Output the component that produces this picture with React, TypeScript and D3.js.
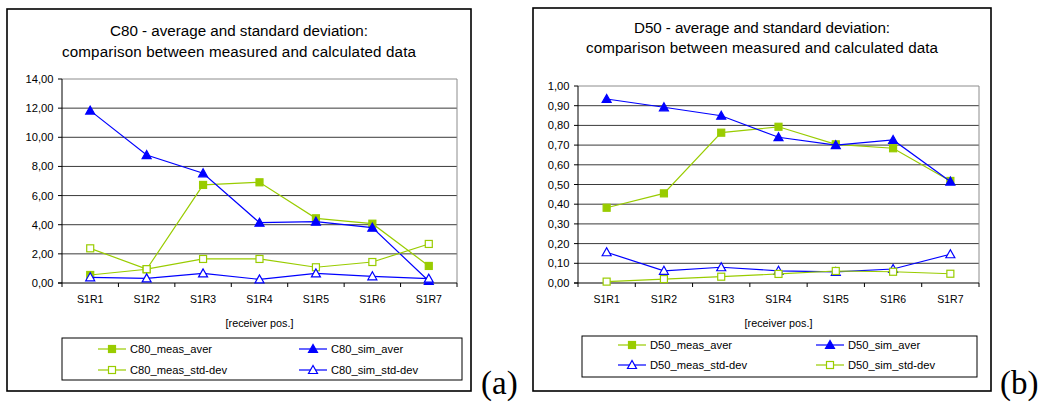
import * as d3 from "d3";

const categories = ["S1R1", "S1R2", "S1R3", "S1R4", "S1R5", "S1R6", "S1R7"];

const c80MeasAver = [0.55, 0.94, 6.73, 6.91, 4.44, 4.07, 1.17];
const c80SimAver = [11.83, 8.78, 7.53, 4.14, 4.21, 3.8, 0.14];
const c80MeasStd = [2.38, 0.95, 1.65, 1.65, 1.08, 1.44, 2.68];
const c80SimStd = [0.39, 0.32, 0.66, 0.25, 0.66, 0.46, 0.3];
const c80Ticks = [0, 2, 4, 6, 8, 10, 12, 14];

const d50MeasAver = [0.382, 0.455, 0.763, 0.793, 0.704, 0.684, 0.518];
const d50SimAver = [0.934, 0.892, 0.849, 0.74, 0.7, 0.726, 0.515];
const d50MeasStd = [0.156, 0.062, 0.08, 0.062, 0.056, 0.071, 0.146];
const d50SimStd = [0.007, 0.02, 0.032, 0.046, 0.061, 0.057, 0.047];
const d50Ticks = [0, 0.1, 0.2, 0.3, 0.4, 0.5, 0.6, 0.7, 0.8, 0.9, 1.0];

const GREEN = "#99cc00";
const BLUE = "#0000ff";
const FONT = "'Liberation Sans', Arial, sans-serif";

type Series = {
  name: string;
  values: number[];
  color: string;
  shape: "square" | "triangle";
  filled: boolean;
};

const fmt = (v: number) => d3.format(".2f")(v).replace(".", ",");

function Marker({ s, x, y }: { s: Series; x: number; y: number }) {
  const fill = s.filled ? s.color : "#fff";
  if (s.shape === "square") {
    return (
      <rect
        x={x - 3.5}
        y={y - 3.5}
        width={7}
        height={7}
        fill={fill}
        stroke={s.color}
        strokeWidth={1.2}
      />
    );
  }
  return (
    <polygon
      points={`${x},${y - 4.5} ${x - 4.5},${y + 3.5} ${x + 4.5},${y + 3.5}`}
      fill={fill}
      stroke={s.color}
      strokeWidth={1.2}
    />
  );
}

function Panel(props: {
  frame: { x: number; y: number; w: number; h: number };
  plot: { l: number; t: number; r: number; b: number };
  titles: string[];
  titleY: number[];
  titleW: number[];
  ticks: number[];
  series: Series[];
  legend: { x: number; y: number; w: number; h: number; rows: number[]; cols: number[] };
  tag: string;
  tagX: number;
}) {
  const { frame, plot, titles, titleY, titleW, ticks, series, legend, tag, tagX } = props;
  const x = d3.scaleBand().domain(categories).range([plot.l, plot.r]);
  const y = d3
    .scaleLinear()
    .domain([0, ticks[ticks.length - 1]])
    .range([plot.b, plot.t]);
  const line = d3
    .line<number>()
    .x((_, i) => x(categories[i])! + x.bandwidth() / 2)
    .y((d) => y(d));
  const cx = frame.x + frame.w / 2;
  const bounds = categories.map((c) => x(c)!).concat([plot.r]);

  return (
    <g fontFamily={FONT}>
      <rect
        x={frame.x}
        y={frame.y}
        width={frame.w}
        height={frame.h}
        fill="#fff"
        stroke="#000"
        strokeWidth={1.6}
      />
      {titles.map((t, i) => (
        <text
          key={i}
          x={cx}
          y={titleY[i]}
          textAnchor="middle"
          fontSize={15.2}
          textLength={titleW[i]}
          lengthAdjust="spacing"
          fill="#000"
        >
          {t}
        </text>
      ))}
      {/* grid */}
      {ticks.slice(1, -1).map((t) => (
        <line key={t} x1={plot.l} x2={plot.r} y1={y(t)} y2={y(t)} stroke="#3a3a3a" strokeWidth={1} />
      ))}
      <line x1={plot.l} x2={plot.r} y1={plot.t} y2={plot.t} stroke="#8c8c8c" />
      <line x1={plot.r} x2={plot.r} y1={plot.t} y2={plot.b} stroke="#8c8c8c" />
      {/* axes */}
      <line x1={plot.l} x2={plot.l} y1={plot.t} y2={plot.b} stroke="#000" />
      <line x1={plot.l - 4} x2={plot.r} y1={plot.b} y2={plot.b} stroke="#000" />
      {ticks.map((t) => (
        <g key={t}>
          <line x1={plot.l - 4} x2={plot.l} y1={y(t)} y2={y(t)} stroke="#000" />
          <text x={plot.l - 8.5} y={y(t) + 4} textAnchor="end" fontSize={11.2} fill="#000">
            {fmt(t)}
          </text>
        </g>
      ))}
      {bounds.map((b, i) => (
        <line key={i} x1={b} x2={b} y1={plot.b} y2={plot.b + 4} stroke="#000" />
      ))}
      {categories.map((c) => (
        <text
          key={c}
          x={x(c)! + x.bandwidth() / 2}
          y={plot.b + 20}
          textAnchor="middle"
          fontSize={10.5}
          fill="#000"
        >
          {c}
        </text>
      ))}
      <text x={(plot.l + plot.r) / 2} y={plot.b + 44} textAnchor="middle" fontSize={10.8} fill="#000">
        [receiver pos.]
      </text>
      {/* series */}
      {series.map((s) => (
        <g key={s.name}>
          <path d={line(s.values)!} fill="none" stroke={s.color} strokeWidth={1.2} />
          {s.values.map((v, i) => (
            <Marker key={i} s={s} x={x(categories[i])! + x.bandwidth() / 2} y={y(v)} />
          ))}
        </g>
      ))}
      {/* legend */}
      <rect
        x={legend.x}
        y={legend.y}
        width={legend.w}
        height={legend.h}
        fill="#fff"
        stroke="#000"
        strokeWidth={1}
      />
      {series.map((s, i) => {
        const lx = legend.cols[i % 2];
        const ly = legend.rows[Math.floor(i / 2)];
        return (
          <g key={s.name}>
            <line x1={lx} x2={lx + 28} y1={ly} y2={ly} stroke={s.color} strokeWidth={1.2} />
            <Marker s={s} x={lx + 14} y={ly} />
            <text x={lx + 32} y={ly + 4} fontSize={11.2} fill="#000">
              {s.name}
            </text>
          </g>
        );
      })}
      <text
        x={tagX}
        y={394}
        fontFamily="'Liberation Serif', 'Times New Roman', serif"
        fontSize={33}
        fill="#000"
      >
        {tag}
      </text>
    </g>
  );
}

export default function App() {
  const seriesA: Series[] = [
    { name: "C80_meas_aver", values: c80MeasAver, color: GREEN, shape: "square", filled: true },
    { name: "C80_sim_aver", values: c80SimAver, color: BLUE, shape: "triangle", filled: true },
    { name: "C80_meas_std-dev", values: c80MeasStd, color: GREEN, shape: "square", filled: false },
    { name: "C80_sim_std-dev", values: c80SimStd, color: BLUE, shape: "triangle", filled: false },
  ];
  const seriesB: Series[] = [
    { name: "D50_meas_aver", values: d50MeasAver, color: GREEN, shape: "square", filled: true },
    { name: "D50_sim_aver", values: d50SimAver, color: BLUE, shape: "triangle", filled: true },
    { name: "D50_meas_std-dev", values: d50MeasStd, color: BLUE, shape: "triangle", filled: false },
    { name: "D50_sim_std-dev", values: d50SimStd, color: GREEN, shape: "square", filled: false },
  ];

  return (
    <svg
      width={1044}
      height={403}
      style={{ position: "absolute", left: 0, top: 0, background: "#fff" }}
    >
      <Panel
        frame={{ x: 7, y: 9, w: 464, h: 382 }}
        plot={{ l: 62, t: 79, r: 457, b: 283 }}
        titles={[
          "C80 - average and standard deviation:",
          "comparison between measured and calculated data",
        ]}
        titleY={[36, 57]}
        titleW={[258, 354]}
        ticks={c80Ticks}
        series={seriesA}
        legend={{ x: 62, y: 338, w: 400, h: 42, rows: [349, 370], cols: [98, 299] }}
        tag="(a)"
        tagX={481}
      />
      <Panel
        frame={{ x: 533, y: 8, w: 458, h: 383 }}
        plot={{ l: 578, t: 86, r: 979, b: 283 }}
        titles={[
          "D50 - average and standard deviation:",
          "comparison between measured and calculated data",
        ]}
        titleY={[33, 53]}
        titleW={[256, 352]}
        ticks={d50Ticks}
        series={seriesB}
        legend={{ x: 582, y: 336, w: 395, h: 41, rows: [345, 365], cols: [618, 816] }}
        tag="(b)"
        tagX={1000}
      />
    </svg>
  );
}
